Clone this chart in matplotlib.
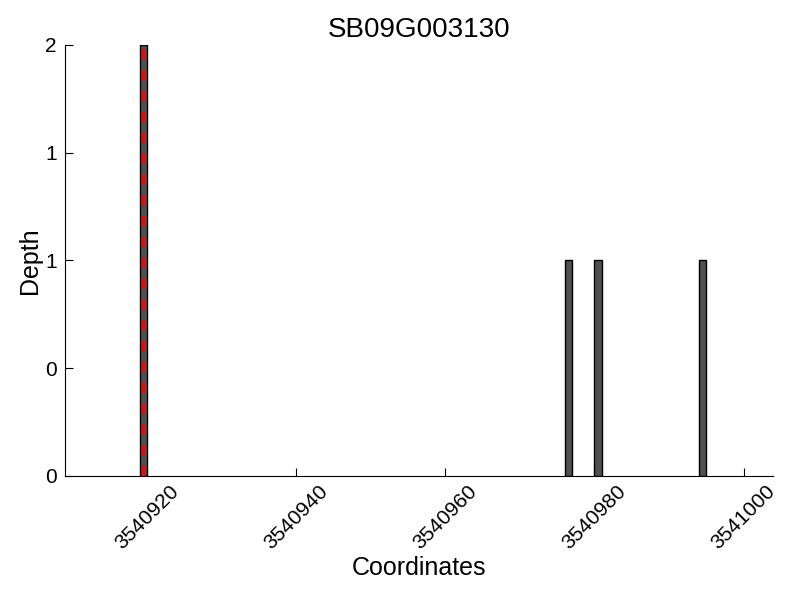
import matplotlib
matplotlib.use("Agg")
import matplotlib.pyplot as plt
from matplotlib.ticker import FormatStrFormatter

plt.rcParams['font.family'] = ['Liberation Sans', 'DejaVu Sans']

# ── data ──
gene = "SB09G003130"
positions = [3540919, 3540976, 3540980, 3540994]
depths = [2, 1, 1, 1]
marker_pos = 3540919.5
y_ticks = [0, 0.5, 1, 1.5, 2]
x_ticks = [3540920, 3540940, 3540960, 3540980, 3541000]

fig = plt.figure(figsize=(8, 6), dpi=100)
ax = fig.add_axes([0.08125, 0.2067, 0.8855, 0.7183])

ax.bar(positions, depths, width=1, align="edge", color="#505050", edgecolor="black", linewidth=1)
ax.axvline(marker_pos, ymin=0, ymax=1, color="red", linestyle=(0, (3, 3)), linewidth=2.5)

ax.set_xlim(min(positions) - 10, max(positions) + 10)
ax.set_ylim(0, max(depths))
ax.set_yticks(y_ticks)
ax.yaxis.set_major_formatter(FormatStrFormatter("%d"))
ax.set_xticks(x_ticks)
ax.xaxis.set_major_formatter(FormatStrFormatter("%d"))
plt.setp(ax.get_xticklabels(), rotation=45, ha="center")

for s in ("top", "right"):
    ax.spines[s].set_visible(False)
ax.tick_params(direction="in", labelsize=15, length=6, width=0.8)
ax.tick_params(axis="y", pad=6)
ax.tick_params(axis="x", pad=4)

ax.set_xlabel("Coordinates", fontsize=18, labelpad=2)
ax.set_ylabel("Depth", fontsize=18, labelpad=2)
ax.set_title(gene, fontsize=20)

fig.savefig("out.png", dpi=100)
